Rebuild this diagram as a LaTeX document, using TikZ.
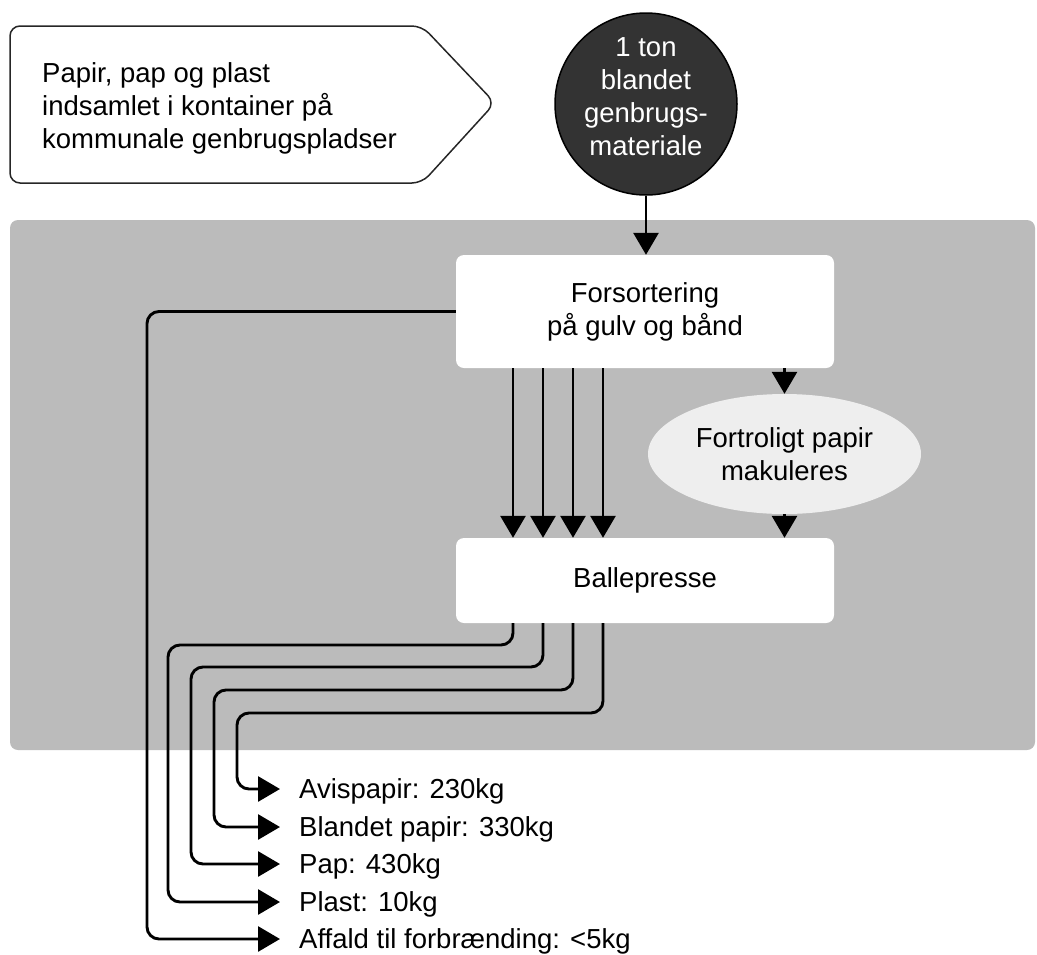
\documentclass[tikz,border=0pt]{standalone}
\usepackage{fontspec}
\setmainfont{Liberation Sans}
\usetikzlibrary{arrows.meta,shapes.geometric}

\definecolor{baggrund}{HTML}{BBBBBB}
\definecolor{moerk}{HTML}{333333}
\definecolor{lys}{HTML}{EEEEEE}

\begin{document}
\begin{tikzpicture}[x=1pt, y=-1pt,
		font=\fontsize{27.5}{33}\selectfont,
		pil/.style={line width=2.9pt, -{Triangle[length=22pt,width=25pt]}},
		ud/.style={pil, rounded corners=12pt, shorten >=19pt},
		boks/.style={fill=white, rounded corners=8pt, minimum width=378pt, align=center},
		vaegt/.style={anchor=west, inner sep=0pt, text height=19pt, text depth=0pt}]
		
		\useasboundingbox (0,0) rectangle (1037,954);
		
		% baggrund
		\fill[baggrund, rounded corners=8pt] (10,220) rectangle (1035,750);
		
		% kilde
		\draw[line width=1.5pt, black!85, rounded corners=10pt] (10,26) -- (422,26) -- (495,103) -- (422,183) -- (10,183) -- cycle;
		\node[anchor=west, inner sep=0pt, align=left] (kilde) at (42,108) {Papir, pap og plast\\indsamlet i kontainer på\\kommunale genbrugspladser};
		
		\node[circle, draw=black, line width=1.5pt, fill=moerk, minimum size=182pt] (ton) at (646,104) {};
		\node[text=white, align=center] (tontekst) at ([yshift=7.5pt]ton.center) {1 ton\\blandet\\genbrugs-\\materiale};
		
		% sortering
		\node[boks, minimum height=113pt] (forsort) at (645,311.5) {Forsortering\\på gulv og bånd};
		\node[ellipse, fill=lys, minimum width=273pt, minimum height=120pt, align=center] (makul) at (784.5,454) {Fortroligt papir\\makuleres};
		\node[boks, minimum height=85pt] (balle) at (645,580.5) {Ballepresse};
		
		\draw[pil] (ton.south) -- (ton.south |- forsort.north);
		\draw[pil] (makul.north |- forsort.south) -- (makul.north);
		\draw[pil] (makul.south) -- (makul.south |- balle.north);
		\foreach \x in {513,543,573,603}
			\draw[pil] (\x,0 |- forsort.south) -- (\x,0 |- balle.north);
		
		% fraktioner
		\node[vaegt] (avis) at (299,789) {Avispapir: 230kg};
		\node[vaegt] (blandet) at (299,827) {Blandet papir: 330kg};
		\node[vaegt] (pap) at (299,864) {Pap: 430kg};
		\node[vaegt] (plast) at (299,902) {Plast: 10kg};
		\node[vaegt] (affald) at (299,939) {Affald til forbrænding: <5kg};
		
		\foreach \x/\y/\v/\m in {513/645/168/plast, 543/667/191/pap, 573/690/214/blandet, 603/713/237/avis}
			\draw[ud] (\x,0 |- balle.south) -- (\x,\y) -- (\v,\y) -- (\v,0 |- \m.west) -- (\m.west);
		\draw[ud] (forsort.west) -- (147,0 |- forsort.west) -- (147,0 |- affald.west) -- (affald.west);
		
	\end{tikzpicture}
\end{document}
